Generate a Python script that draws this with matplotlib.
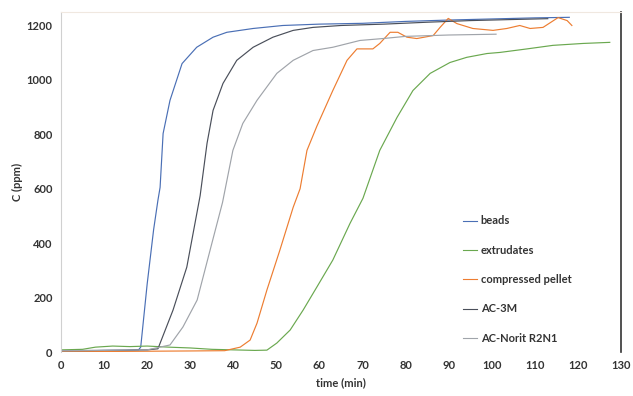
import matplotlib.pyplot as plt

plt.rcParams['font.family'] = ['Lato', 'DejaVu Sans']

# breakthrough curves
t_beads = [0, 5, 10, 15, 18, 18.5, 20, 21.5, 22.5, 23, 23.7, 25.3, 28.1, 31.5, 35.3, 38.5, 44.6,
           51.5, 60, 70, 80, 90, 100, 110, 118]
c_beads = [5, 4, 6, 6, 8, 18, 250, 450, 558, 605, 803, 925, 1060, 1120, 1157, 1175, 1189,
           1200, 1205, 1208, 1215, 1220, 1224, 1228, 1230]

t_extr = [0, 5, 8, 12, 16, 20, 25, 30, 35, 40, 45, 47.8, 50.1, 53.2, 56.2, 59.4, 63.1, 67.1,
          70.1, 74, 78, 81.7, 85.7, 90.3, 94.2, 98.9, 101.9, 108.2, 114.2, 121.2, 127.4]
c_extr = [8, 10, 18, 22, 20, 22, 18, 15, 10, 8, 6, 7, 33, 81, 154, 239, 338, 473,
          565, 741, 862, 961, 1024, 1064, 1083, 1097, 1101, 1114, 1127, 1134, 1138]

t_pellet = [0, 10, 20, 30, 38, 41.6, 43.9, 45.5, 47.8, 50.8, 53.9, 55.5, 57.1, 59.4, 63.1, 66.4,
            68.7, 72.4, 74, 76.4, 78.2, 80.3, 82.6, 86.4, 88, 89.9, 91.9, 95.6, 100.3, 103.5,
            106.5, 108.9, 111.9, 115.4, 117.5, 118.6]
c_pellet = [3, 2, 3, 4, 5, 18, 44, 106, 228, 374, 532, 600, 741, 830, 961, 1072,
            1114, 1114, 1134, 1175, 1175, 1157, 1152, 1163, 1193, 1226, 1207, 1189, 1182, 1189,
            1200, 1189, 1193, 1229, 1218, 1200]

t_ac3m = [0, 10, 20, 22.5, 26, 29.2, 32.3, 33.9, 35.3, 37.6, 40.8, 44.6, 49.2, 53.9, 58.5,
          65, 75, 85, 95, 105, 113]
c_ac3m = [5, 6, 8, 12, 154, 312, 575, 767, 888, 987, 1072, 1120, 1157, 1182, 1193,
          1200, 1205, 1212, 1218, 1222, 1225]

t_norit = [0, 10, 20, 25.3, 28.3, 31.6, 34.6, 37.5, 39.9, 42.2, 45.5, 50.1, 53.9, 58.5, 63.1,
           69.4, 74.7, 80, 90, 101]
c_norit = [5, 6, 8, 26, 92, 191, 374, 550, 741, 840, 925, 1024, 1072, 1108, 1120,
           1145, 1152, 1160, 1165, 1168]

series = [
    ("beads", t_beads, c_beads, "#4a6fb5"),
    ("extrudates", t_extr, c_extr, "#6aa84f"),
    ("compressed pellet", t_pellet, c_pellet, "#ed7d31"),
    ("AC-3M", t_ac3m, c_ac3m, "#4a4f5a"),
    ("AC-Norit R2N1", t_norit, c_norit, "#a0a4aa"),
]

fig = plt.figure(figsize=(6.33, 3.96), dpi=100)
ax = fig.add_axes([0.0964, 0.111, 0.8846, 0.859])

for name, t, c, col in series:
    ax.plot(t, c, color=col, lw=0.85, label=name)

ax.set_xlim(0, 130)
ax.set_ylim(0, 1250)
ax.set_xticks(range(0, 131, 10))
ax.set_yticks(range(0, 1201, 200))
ax.tick_params(length=0, labelsize=8, colors="#333333", pad=6)
for lab in ax.get_xticklabels() + ax.get_yticklabels():
    lab.set_fontweight("bold")

ax.spines["left"].set_color("#d0d0d0")
ax.spines["top"].set_color("#f0e8e0")
ax.spines["bottom"].set_visible(False)
ax.spines["right"].set_color("#333333")
ax.spines["right"].set_linewidth(1.2)

ax.set_xlabel("time (min)", fontsize=8, fontweight="bold", color="#333333", labelpad=4)
ax.set_ylabel("C (ppm)", fontsize=8, fontweight="bold", color="#333333", labelpad=3)

leg = ax.legend(loc="lower left", bbox_to_anchor=(0.70, -0.005), frameon=False, fontsize=8,
                handlelength=1.3, handletextpad=0.3, labelspacing=1.65)
for txt in leg.get_texts():
    txt.set_color("#333333")
    txt.set_fontweight("bold")
for h in leg.get_lines():
    h.set_linewidth(0.8)

fig.savefig("out.png", dpi=100)
